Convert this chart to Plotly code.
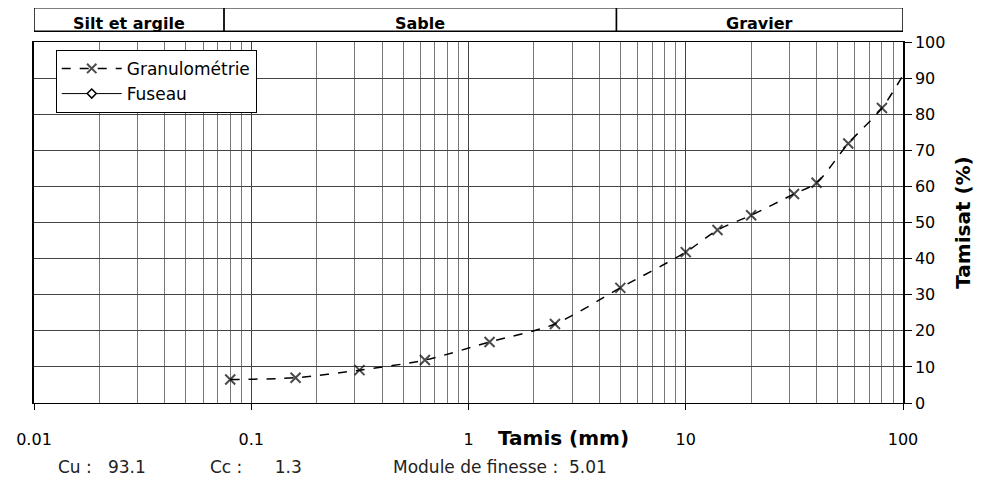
import math
import plotly.graph_objects as go

# Sieve sizes (mm) and passing (%)
tamis = [0.08, 0.16, 0.315, 0.63, 1.25, 2.5, 5, 10, 14, 20, 31.5, 40, 56, 80, 100]
tamisat = [6.5, 7.0, 9.1, 11.9, 16.9, 21.9, 31.9, 41.8, 47.9, 52.0, 57.9, 61.0, 71.9, 81.7, 90.8]
marker_sizes = [10] * 14 + [0]

# Soil class bands (mm)
classes = ["Silt et argile", "Sable", "Gravier"]
class_bounds = [0.01, 0.075, 4.8, 100]

x_ticks = [0.01, 0.1, 1, 10, 100]
x_ticklabels = ["0.01", "0.1", "1", "10", "100"]
y_ticks = list(range(0, 101, 10))

FONT = "DejaVu Sans"
NB = "&nbsp;"

fig = go.Figure()
fig.add_trace(go.Scatter(
    x=tamis, y=tamisat, name="Granulométrie", mode="lines+markers",
    line=dict(color="black", width=1.5, dash="dash", shape="spline", smoothing=0.8),
    marker=dict(symbol="x-thin", size=marker_sizes, color="black",
                line=dict(color="black", width=2)),
))
fig.add_trace(go.Scatter(
    x=[None], y=[None], name="Fuseau", mode="lines+markers",
    line=dict(color="black", width=1),
    marker=dict(symbol="diamond", size=7, color="white", line=dict(color="black", width=1.5)),
))

# Top class band
for i, name in enumerate(classes):
    x0, x1 = class_bounds[i], class_bounds[i + 1]
    fig.add_shape(type="rect", xref="x", yref="paper", x0=x0, x1=x1, y0=1.03, y1=1.095,
                  line=dict(color="black", width=1.5), fillcolor="white")
    xm = (math.log10(x0) + math.log10(x1)) / 2
    fig.add_annotation(x=xm, xref="x", y=1.052, yref="paper", text="<b>" + name + "</b>",
                       showarrow=False, font=dict(family=FONT, size=16, color="black"),
                       yanchor="middle")

fig.add_annotation(x=math.log10(2.75), xref="x", y=-0.097, yref="paper",
                   text="<b>Tamis (mm)</b>", showarrow=False,
                   font=dict(family=FONT, size=20, color="black"), yanchor="middle")

bottom_texts = [("Cu :" + NB * 3 + "93.1", 55), ("Cc :" + NB * 6 + "1.3", 207),
                ("Module de finesse :" + NB * 2 + "5.01", 390)]
for txt, px in bottom_texts:
    fig.add_annotation(x=(px - 33) / 869, xref="paper", y=-0.177, yref="paper", text=txt,
                       showarrow=False, xanchor="left", yanchor="middle",
                       font=dict(family=FONT, size=17, color="#222"))

fig.update_xaxes(
    type="log", range=[-2, 2], tickvals=x_ticks, ticktext=x_ticklabels,
    showline=True, linecolor="black", linewidth=1, mirror=True,
    ticks="outside", ticklen=6, tickcolor="black", ticklabelstandoff=16,
    showgrid=True, gridcolor="#444", gridwidth=1,
    minor=dict(showgrid=True, gridcolor="#777", gridwidth=1, ticks="", dtick="D1"),
    tickfont=dict(family=FONT, size=16, color="black"), zeroline=False, automargin=False,
)
fig.update_yaxes(
    range=[0, 100], tickvals=y_ticks, side="right",
    showline=True, linecolor="black", linewidth=1.5, mirror=True,
    ticks="outside", ticklen=7, tickcolor="black",
    showgrid=True, gridcolor="#444", gridwidth=1,
    tickfont=dict(family=FONT, size=16, color="black"), zeroline=False,
    title=dict(text="<b>Tamisat (%)</b>", font=dict(family=FONT, size=20, color="black"), standoff=12),
    automargin=False,
)
fig.update_layout(
    width=988, height=486,
    margin=dict(l=26, r=93, t=34, b=91),
    plot_bgcolor="white", paper_bgcolor="white",
    font=dict(family=FONT, color="black"),
    legend=dict(x=0.025, y=0.978, xanchor="left", yanchor="top",
                bgcolor="white", bordercolor="black", borderwidth=1,
                font=dict(family=FONT, size=17, color="black"),
                tracegroupgap=0, itemwidth=60),
    showlegend=True,
)
fig.write_html("out.html")
